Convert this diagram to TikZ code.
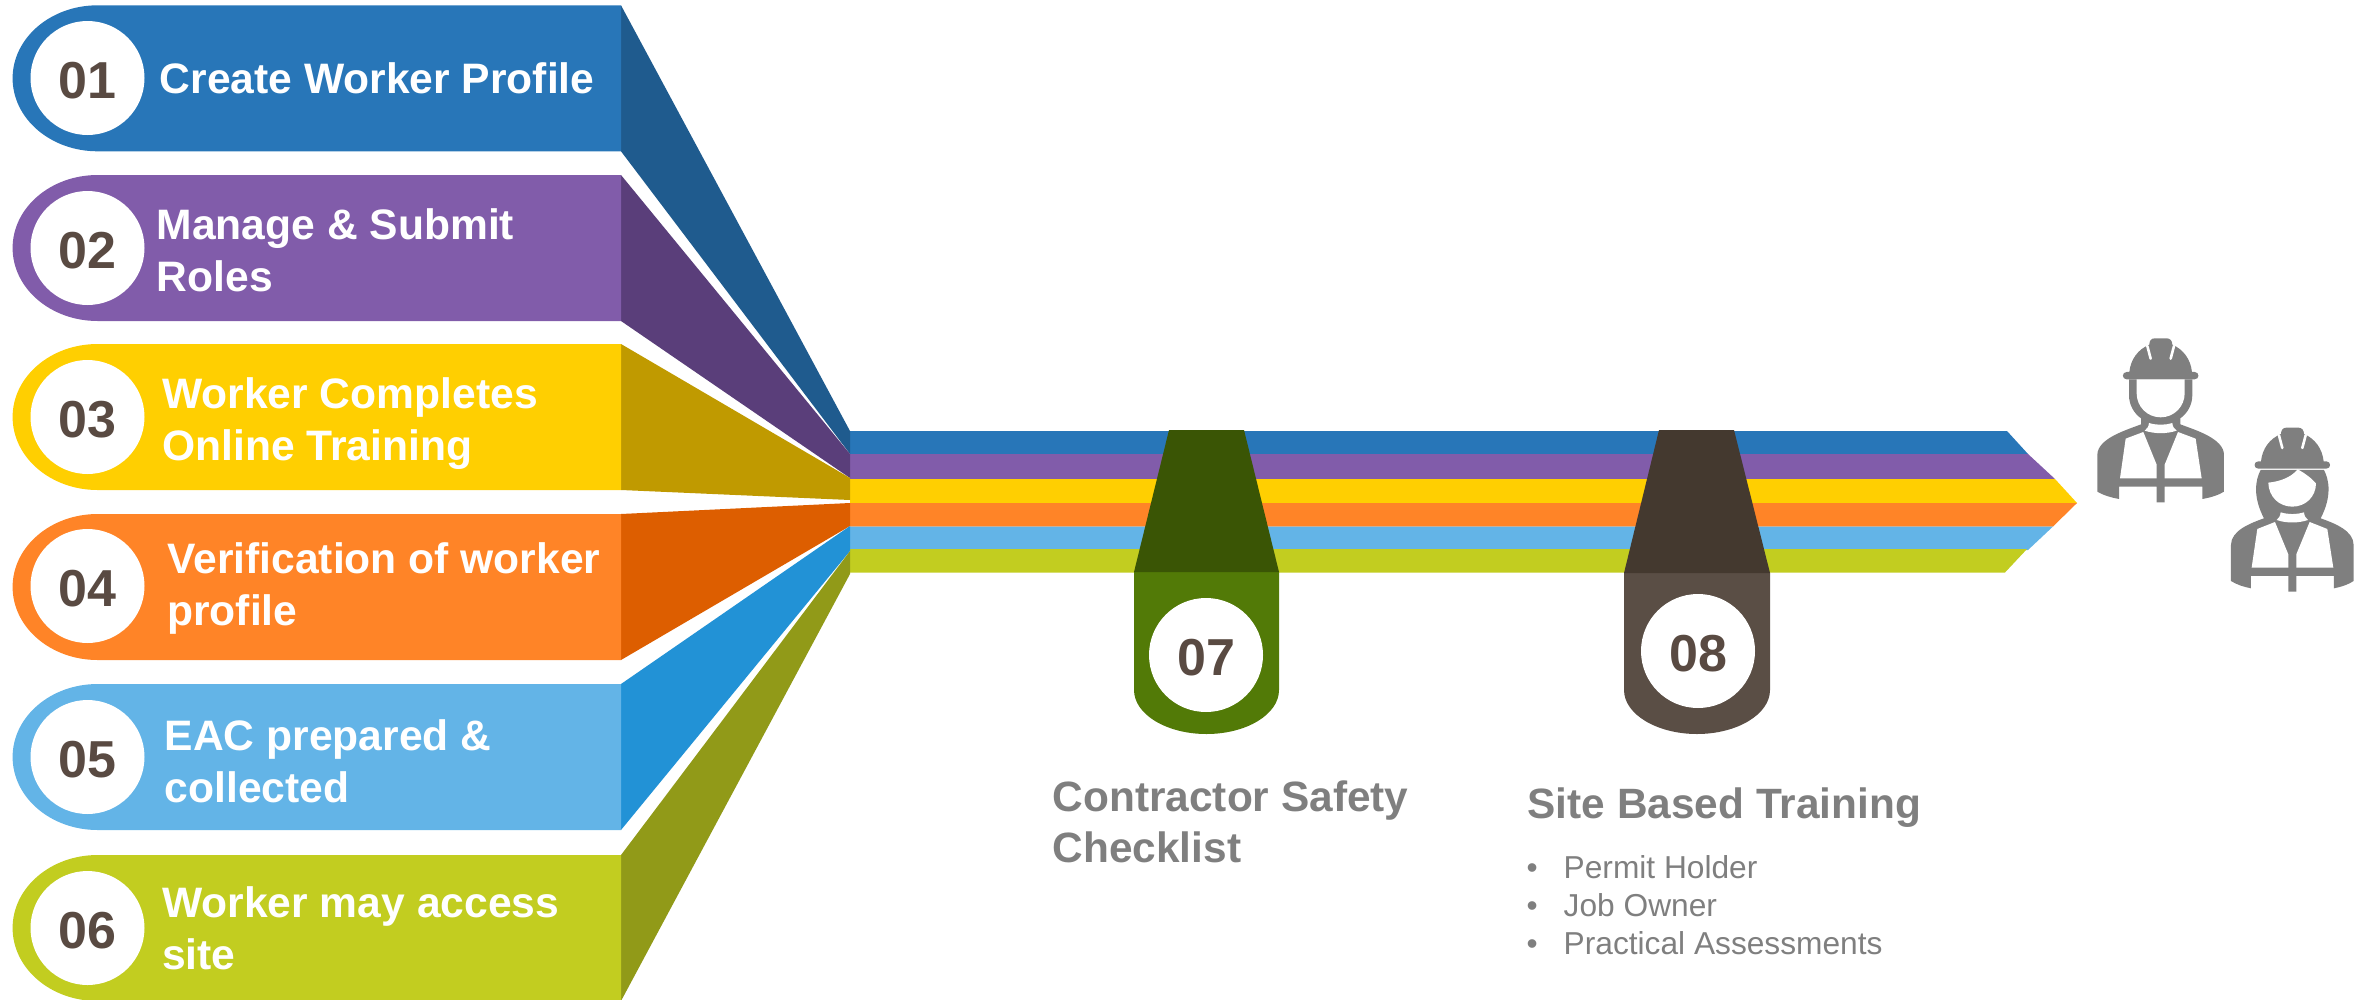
\documentclass[tikz,border=0pt]{standalone}
\usepackage{fontspec}
\setmainfont{Liberation Sans}
\definecolor{cA}{HTML}{2876B8}\definecolor{dA}{HTML}{1F5B8E}
\definecolor{cB}{HTML}{815CAA}\definecolor{dB}{HTML}{5A3E7A}
\definecolor{cC}{HTML}{FFCF01}\definecolor{dC}{HTML}{C09A00}
\definecolor{cD}{HTML}{FF8427}\definecolor{dD}{HTML}{DD5E00}
\definecolor{cE}{HTML}{63B4E7}\definecolor{dE}{HTML}{2292D6}
\definecolor{cF}{HTML}{C2CD20}\definecolor{dF}{HTML}{919A18}
\definecolor{pG}{HTML}{527A07}\definecolor{pGd}{HTML}{3A5505}
\definecolor{pB}{HTML}{5A4E45}\definecolor{pBd}{HTML}{44392F}
\definecolor{numtxt}{HTML}{594A42}
\definecolor{graytxt}{HTML}{7F7F7F}
\tikzset{
  numdisc/.style={circle,fill=white,inner sep=0pt,minimum size=114pt},
  numlabel/.style={inner sep=0pt,yshift=-2.5pt,text=numtxt,font=\fontsize{52}{52}\selectfont\bfseries},
  bannertext/.style={inner sep=0pt,anchor=base west,align=left,text=white,yshift=-1.5pt,xshift=-0.5pt,font=\fontsize{42.6}{52}\selectfont\bfseries},
  graytitle/.style={inner sep=0pt,anchor=base west,align=left,text=graytxt,yshift=-1.5pt,xshift=-0.5pt,font=\fontsize{42.4}{51}\selectfont\bfseries},
  graylist/.style={inner sep=0pt,anchor=base west,align=left,text=graytxt,font=\fontsize{31.7}{38}\selectfont},
  iconslit/.style={draw=white,line width=2.6pt,line cap=round},
}
% #1 id, #2 top, #3 colour, #4 dark, #5 y1, #6 y2, #7 disc y
\newcommand{\bannershape}[7]{
  \fill[#4] (621,#2) -- (850,#5) -- (850,#6) -- (621,#2+146) -- cycle;
  \fill[#3] (621,#2) -- (97.6,#2) .. controls (50.6,#2) and (12.6,#2+32.7) .. (12.6,#2+73)
     .. controls (12.6,#2+113.3) and (50.6,#2+146) .. (97.6,#2+146) -- (621,#2+146) -- cycle;
  \node[numdisc] (disc#1) at (87.5,#7) {};
  \node[numlabel] (num#1) at (disc#1.center) {0#1};
}
% helmet, centred on x=#1 with top at y=#2, in zoom units
\newcommand{\helmet}[2]{
  \begin{scope}[shift={(#1-632,#2-85)}]
  \fill[graytxt] (598,104) .. controls (598,92) and (604,85) .. (614,85) -- (650,85)
    .. controls (660,85) and (667,92) .. (667,104)
    .. controls (700,118) and (722,148) .. (726,186) -- (734,186)
    .. controls (749,186) and (749,208) .. (734,208) -- (530,208)
    .. controls (515,208) and (515,186) .. (530,186) -- (538,186)
    .. controls (542,148) and (564,118) .. (598,104) -- cycle;
  \draw[iconslit] (592,108) -- (602,146);
  \draw[iconslit] (672,108) -- (662,146);
  \end{scope}
}
\begin{document}
\begin{tikzpicture}[x=1pt,y=-1pt]
\useasboundingbox (0,0) rectangle (2367,999);
\clip (0,0) rectangle (2367,999);
% ribbon
\fill[cA] (850,431) -- (2007,431) -- (2028,454) -- (850,454) -- cycle;
\fill[cB] (850,454) -- (2028,454) -- (2055,479) -- (850,479) -- cycle;
\fill[cC] (850,479) -- (2055,479) -- (2077,503) -- (850,503) -- cycle;
\fill[cD] (850,503) -- (2077,503) -- (2053,526.5) -- (850,526.5) -- cycle;
\fill[cE] (850,526.5) -- (2053,526.5) -- (2028,550) -- (850,550) -- cycle;
\fill[cF] (850,549) -- (2027,549) -- (2005,572.5) -- (850,572.5) -- cycle;
% banners
\bannershape{1}{5.3}{cA}{dA}{431}{454}{78}
\bannershape{2}{175}{cB}{dB}{454}{478}{248}
\bannershape{3}{344}{cC}{dC}{478}{500}{417}
\bannershape{4}{514}{cD}{dD}{503}{526}{586}
\bannershape{5}{684}{cE}{dE}{526}{551}{757}
\bannershape{6}{855}{cF}{dF}{551}{574}{928}
\node[bannertext] (t1) at (160,92) {Create Worker Profile};
\node[bannertext] (t2) at (157,290) {Manage \& Submit\\Roles};
\node[bannertext] (t3) at (162.5,459) {Worker Completes\\Online Training};
\node[bannertext] (t4) at (167.6,624) {Verification of worker\\profile};
\node[bannertext] (t5) at (165,801) {EAC prepared \&\\collected};
\node[bannertext] (t6) at (162.5,968) {Worker may access\\site};
% pendants
\fill[pG] (1134,572) -- (1279,572) -- (1279,690) .. controls (1279,714.3) and (1246.5,734) .. (1206.5,734)
   .. controls (1166.5,734) and (1134,714.3) .. (1134,690) -- cycle;
\fill[pGd] (1169,430) -- (1244,430) -- (1279,572) -- (1134,572) -- cycle;
\node[numdisc] (disc7) at (1206,655) {};
\node[numlabel] (num7) at (disc7.center) {07};
\fill[pB] (1624,573) -- (1770,573) -- (1770,690) .. controls (1770,714.3) and (1737,734) .. (1697,734)
   .. controls (1657,734) and (1624,714.3) .. (1624,690) -- cycle;
\fill[pBd] (1659,430) -- (1734,430) -- (1770,573) -- (1624,573) -- cycle;
\node[numdisc] (disc8) at (1698,651) {};
\node[numlabel] (num8) at (disc8.center) {08};
% captions
\node[graytitle] (cap7) at (1053,861) {Contractor Safety\\Checklist};
\node[graytitle] (cap8) at (1528,817) {Site Based Training};
\node[graylist] (list8) at (1526.5,954) {\makebox[37pt][l]{•}Permit Holder\\\makebox[37pt][l]{•}Job Owner\\\makebox[37pt][l]{•}Practical Assessments};
% workers
\begin{scope}[shift={(1950,310)},x=0.3333pt,y=-0.3333pt]
  % man
  \helmet{632}{85}
  \fill[graytxt] (537,208) -- (537,255) .. controls (537,285) and (552,310) .. (573,325) -- (573,343)
    .. controls (530,360) and (442,385) .. (442,435) -- (442,545) .. controls (460,556) and (485,563) .. (507,567)
    -- (507,530) -- (620,530) -- (620,577) -- (644,577) -- (644,530) -- (757,530) -- (757,567)
    .. controls (780,563) and (805,556) .. (822,545) -- (822,435) .. controls (822,385) and (735,360) .. (691,343)
    -- (691,325) .. controls (712,310) and (727,285) .. (727,255) -- (727,208) -- cycle;
  \fill[white] (560,208) -- (704,208) -- (704,250) .. controls (704,290) and (672,322) .. (632,322)
    .. controls (592,322) and (560,290) .. (560,250) -- cycle;
  \fill[white] (597,339) .. controls (620,346) and (644,346) .. (667,339) .. controls (668,350) and (672,356) .. (680,362)
    .. controls (650,372) and (614,372) .. (584,362) .. controls (592,356) and (596,350) .. (597,339) -- cycle;
  \fill[white] (527,386) -- (580,366) -- (620,464) -- (620,505) -- (510,505) -- cycle;
  \fill[white] (737,386) -- (684,366) -- (644,464) -- (644,505) -- (755,505) -- cycle;
  % woman
  \helmet{1027}{353}
  \fill[graytxt] (932,480) .. controls (916,510) and (908,560) .. (942,625)
    .. controls (900,640) and (843,662) .. (843,705) -- (843,813) .. controls (860,824) and (882,831) .. (903,835)
    -- (903,798) -- (1015,798) -- (1015,845) -- (1039,845) -- (1039,798) -- (1152,798) -- (1152,835)
    .. controls (1173,831) and (1195,824) .. (1211,813) -- (1211,705) .. controls (1211,662) and (1154,640) .. (1112,625)
    .. controls (1146,560) and (1138,510) .. (1122,480) -- cycle;
  \fill[white] (955,518) .. controls (995,514) and (1025,500) .. (1043,478) .. controls (1065,490) and (1085,505) .. (1098,520)
    .. controls (1098,560) and (1067,590) .. (1027,590) .. controls (987,590) and (956,560) .. (955,518) -- cycle;
  \fill[white] (992,607) .. controls (1015,614) and (1039,614) .. (1062,607) .. controls (1063,618) and (1067,624) .. (1074,630)
    .. controls (1045,640) and (1009,640) .. (980,630) .. controls (987,624) and (991,618) .. (992,607) -- cycle;
  \fill[white] (922,657) -- (975,636) -- (1015,733) -- (1015,773) -- (905,773) -- cycle;
  \fill[white] (1132,657) -- (1079,636) -- (1039,733) -- (1039,773) -- (1150,773) -- cycle;
\end{scope}
\end{tikzpicture}
\end{document}
